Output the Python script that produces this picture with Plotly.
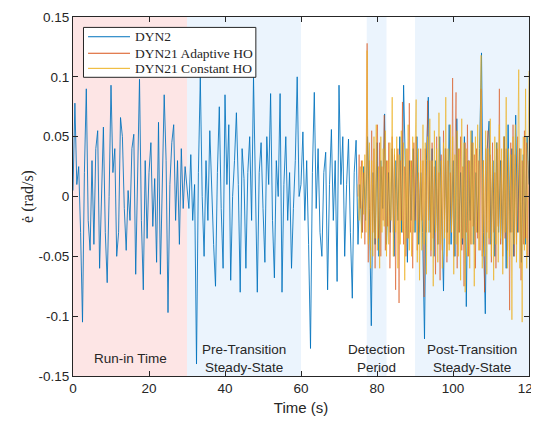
import numpy as np
import plotly.graph_objects as go

# DYN2 error rate, sampled every 0.5 s from 0 to 120 s
dyn2 = [
    0.005, 0.078, 0.010, 0.025, -0.030, -0.105, 0.020, 0.090, -0.020, -0.045,
    0.030, -0.040, 0.040, 0.055, -0.060, 0.010, 0.058, -0.030, -0.072, 0.000,
    0.093, 0.020, 0.040, -0.050, -0.030, 0.066, 0.050, -0.010, -0.045, 0.005,
    -0.020, 0.040, 0.052, -0.065, 0.005, 0.098, -0.020, -0.078, 0.030, -0.035,
    0.020, 0.045, -0.025, 0.015, -0.055, 0.062, -0.065, 0.025, 0.085, 0.030,
    -0.097, 0.010, 0.045, 0.060, -0.020, 0.030, -0.040, 0.040, -0.010, 0.025,
    0.010,
    -0.010, 0.035, -0.020, 0.010, -0.140, 0.020, 0.100, 0.000, -0.050, 0.030,
    -0.020, 0.055, 0.000, -0.040, -0.075, 0.020, 0.075, -0.010, -0.060, 0.085,
    0.010, 0.060, -0.070, 0.000, 0.030, 0.070, 0.010, -0.080, 0.040, 0.015,
    -0.060, 0.020, 0.050, -0.020, 0.100, 0.010, -0.080, 0.020, 0.045, -0.010,
    -0.055, 0.050, 0.010, 0.086, -0.020, -0.068, 0.030, 0.000, 0.086, -0.080,
    0.010, 0.050, -0.020, 0.020, -0.060, -0.010, 0.030, 0.100, 0.000, 0.010,
    0.054, -0.020, 0.030, -0.040, -0.127, 0.020, 0.087, -0.010, 0.040, -0.030,
    -0.050, 0.020, 0.037, -0.078, 0.010, 0.056, -0.020, 0.030, -0.071, 0.093,
    0.010, 0.050, -0.050, 0.010, 0.048, -0.030, -0.085, 0.020, 0.047, -0.040,
    0.010, -0.030, 0.025, -0.020, 0.050, -0.010, -0.108, 0.020, -0.040, 0.045,
    -0.050, 0.030, -0.010, 0.069, -0.040, 0.020, -0.030, 0.040, -0.050, 0.030,
    -0.020, 0.050, -0.030, 0.093, 0.010, -0.055, 0.030, -0.020, 0.040, -0.030,
    0.050, -0.040, 0.020, -0.030, -0.119, 0.030, 0.083, -0.030, 0.040, -0.050,
    0.030, -0.040, 0.050, -0.020, -0.079, 0.040, -0.030, 0.060, -0.040, 0.030,
    -0.050, 0.065, -0.030, 0.020, -0.040, 0.050, -0.092, 0.030, -0.020, 0.055,
    -0.040, 0.020, -0.030, 0.040, 0.120, -0.030, -0.098, 0.040, 0.063, -0.040,
    0.030, -0.050, 0.045, -0.030, 0.030, -0.040, 0.050, -0.060, 0.060, -0.030,
    0.040, -0.050, 0.068, -0.030, 0.040, -0.055, 0.035, -0.040, 0.050, 0.010,
]
dyn2_start, dyn2_end = 0.0, 120.0

# DYN21 series, sampled every 0.3 s from 75 to 120 s
dyn21_adaptive = [
    0.000, 0.035, -0.010, 0.030, -0.030, 0.020, -0.040, 0.010, 0.128, -0.055,
    0.030, -0.045, 0.055, -0.030, 0.040, -0.060, 0.020, 0.060, -0.035, 0.045,
    -0.050, 0.025, -0.020, 0.068, -0.045, 0.030, -0.025, 0.045, -0.060, 0.015,
    0.050, -0.030, 0.035, -0.078, 0.020, 0.040, -0.089, 0.030, -0.020, 0.079,
    -0.040, 0.025, -0.050, 0.040, -0.035, 0.078, -0.030, 0.030, -0.060, 0.045,
    -0.020, 0.050, -0.045, 0.020, -0.030, 0.040, -0.020, 0.030, -0.084, 0.040,
    -0.030, 0.080, -0.020, 0.030, -0.050, 0.045, -0.035, 0.025, -0.065, 0.050,
    -0.040, 0.020, -0.070, 0.035, -0.045, 0.055, -0.030, 0.040, -0.055, 0.030,
    -0.040, 0.020, -0.030, 0.099, -0.050, 0.030, 0.087, -0.060, 0.040, -0.030,
    0.050, -0.045, 0.025, -0.075, 0.045, -0.030, 0.060, -0.050, 0.030, -0.040,
    0.045, -0.025, 0.035, -0.060, 0.040, -0.035, 0.030, -0.045, 0.090, -0.050,
    0.030, -0.080, 0.040, -0.030, 0.055, -0.040, 0.035, -0.055, 0.045, -0.030,
    0.020, -0.060, 0.040, -0.025, 0.090, -0.040, 0.030, -0.050, 0.050, -0.035,
    0.040, -0.045, 0.030, -0.095, 0.045, -0.030, 0.060, -0.050, 0.035, -0.040,
    0.050, -0.030, 0.040, -0.070, 0.030, -0.040, 0.055, -0.035, 0.045, -0.050,
    0.030,
]
dyn21_constant = [
    0.010, -0.020, 0.025, -0.035, 0.030, -0.015, 0.035, -0.030, 0.122, -0.040,
    0.045, -0.060, 0.030, -0.050, 0.050, -0.035, 0.060, -0.045, 0.025, -0.060,
    0.050, -0.030, 0.040, -0.025, 0.055, -0.050, 0.030, -0.040, 0.045, -0.020,
    0.083, -0.050, 0.040, -0.030, 0.050, -0.060, 0.035, -0.040, 0.055, -0.030,
    0.045, -0.070, 0.040, -0.035, 0.060, -0.045, 0.030, -0.050, 0.050, -0.030,
    0.035, 0.081, -0.055, 0.040, -0.070, 0.030, -0.045, 0.060, -0.040, 0.045,
    -0.065, 0.050, -0.030, 0.065, -0.045, 0.030, -0.075, 0.055, -0.030, 0.040,
    -0.055, 0.070, -0.040, 0.030, -0.060, 0.045, -0.035, 0.083, -0.050, 0.040,
    -0.045, 0.060, -0.030, 0.050, -0.065, 0.035, -0.040, 0.055, -0.050, 0.040,
    -0.070, 0.065, -0.035, 0.045, -0.080, 0.040, -0.050, 0.030, -0.060, 0.055,
    -0.040, 0.045, -0.075, 0.050, -0.030, 0.060, -0.045, 0.040, 0.118, -0.060,
    0.030, -0.050, 0.055, -0.065, 0.040, -0.035, 0.065, -0.050, 0.030, -0.070,
    0.050, -0.040, 0.045, -0.055, 0.060, -0.035, 0.040, -0.065, 0.050, -0.030,
    0.083, -0.060, 0.040, -0.050, 0.035, -0.103, 0.050, -0.040, 0.060, -0.055,
    0.045, 0.106, -0.060, 0.040, -0.105, 0.050, -0.045, 0.090, -0.060, 0.040,
    0.105,
]
dyn21_start, dyn21_end = 75.0, 120.0

series_names = ["DYN2", "DYN21 Adaptive HO", "DYN21 Constant HO"]
series_colors = ["rgba(0,114,189,0.85)", "rgba(217,83,25,0.55)", "rgba(237,177,32,0.65)"]
legend_colors = ["rgb(0,114,189)", "rgb(217,83,25)", "rgb(237,177,32)"]

# Phases (start, end, fill, label)
phase_starts = [0, 30, 77.3, 90]
phase_ends = [30, 60, 82.5, 120]
phase_fills = ["rgb(253,229,229)", "rgb(235,244,253)", "rgb(235,244,253)", "rgb(235,244,253)"]
phase_labels = ["Run-in Time", "Pre-Transition<br>Steady-State", "Detection<br>Period",
                "Post-Transition<br>Steady-State"]
label_x = [15, 45, 79.8, 105]
label_y = -0.135

x_ticks = [0, 20, 40, 60, 80, 100, 120]
y_ticks = [-0.15, -0.1, -0.05, 0, 0.05, 0.1, 0.15]
y_ticklabels = ["-0.15", "-0.1", "-0.05", "0", "0.05", "0.1", "0.15"]

t2 = np.linspace(dyn2_start, dyn2_end, len(dyn2))
t21a = np.linspace(dyn21_start, dyn21_end, len(dyn21_adaptive))
t21c = np.linspace(dyn21_start, dyn21_end, len(dyn21_constant))

fig = go.Figure()
for tx, ty, nm, col in zip([t2, t21a, t21c], [dyn2, dyn21_adaptive, dyn21_constant],
                           series_names, series_colors):
    fig.add_trace(go.Scatter(x=tx, y=ty, mode="lines", name=nm, showlegend=False,
                             line=dict(color=col, width=1)))

for s, e, c in zip(phase_starts, phase_ends, phase_fills):
    fig.add_shape(type="rect", xref="x", yref="paper", x0=s, x1=e, y0=0, y1=1,
                  fillcolor=c, line=dict(width=0), layer="below")

for lx, lab in zip(label_x, phase_labels):
    fig.add_annotation(x=lx, y=label_y, xref="x", yref="y", text=lab, showarrow=False,
                       yanchor="middle",
                       font=dict(family="Liberation Sans, Arial", size=13.5, color="#262626"))

# Legend box (MATLAB-style compact legend)
fig.add_shape(type="rect", xref="paper", yref="paper", x0=0.023, x1=0.401, y0=0.832, y1=0.971,
              fillcolor="white", line=dict(color="#262626", width=1), layer="above")
legend_rows = [0.945, 0.899, 0.857]
for ry, nm, col in zip(legend_rows, series_names, legend_colors):
    fig.add_shape(type="line", xref="paper", yref="paper", x0=0.033, x1=0.125, y0=ry, y1=ry,
                  line=dict(color=col, width=1), layer="above")
    fig.add_annotation(x=0.1316, y=ry, xref="paper", yref="paper", text=nm, showarrow=False,
                       xanchor="left", yanchor="middle",
                       font=dict(family="Liberation Serif, Times New Roman", size=13.5, color="#262626"))

axis_common = dict(showline=True, linecolor="#262626", linewidth=1, mirror="ticks",
                   ticks="inside", ticklen=5, tickcolor="#262626", showgrid=False,
                   zeroline=False, automargin=False, ticklabeloverflow="allow",
                   tickfont=dict(family="Liberation Sans, Arial", size=13.5, color="#262626"))

fig.update_xaxes(range=[0, 120], tickvals=x_ticks,
                 title=dict(text="Time (s)", standoff=7,
                            font=dict(family="Liberation Sans, Arial", size=15, color="#262626")),
                 **axis_common)
fig.update_yaxes(range=[-0.15, 0.15], tickvals=y_ticks, ticktext=y_ticklabels,
                 title=dict(text="ė (rad/s)", standoff=0,
                            font=dict(family="Liberation Serif, Times New Roman", size=16, color="#262626")),
                 **axis_common)

# The page body adds an 8 px offset; the figure is sized so the plot area lands where the reference has it
fig.update_layout(
    width=539, height=416,
    margin=dict(l=65, r=18, t=9, b=48),
    plot_bgcolor="white", paper_bgcolor="white",
    showlegend=False,
)

fig.write_html("out.html")
